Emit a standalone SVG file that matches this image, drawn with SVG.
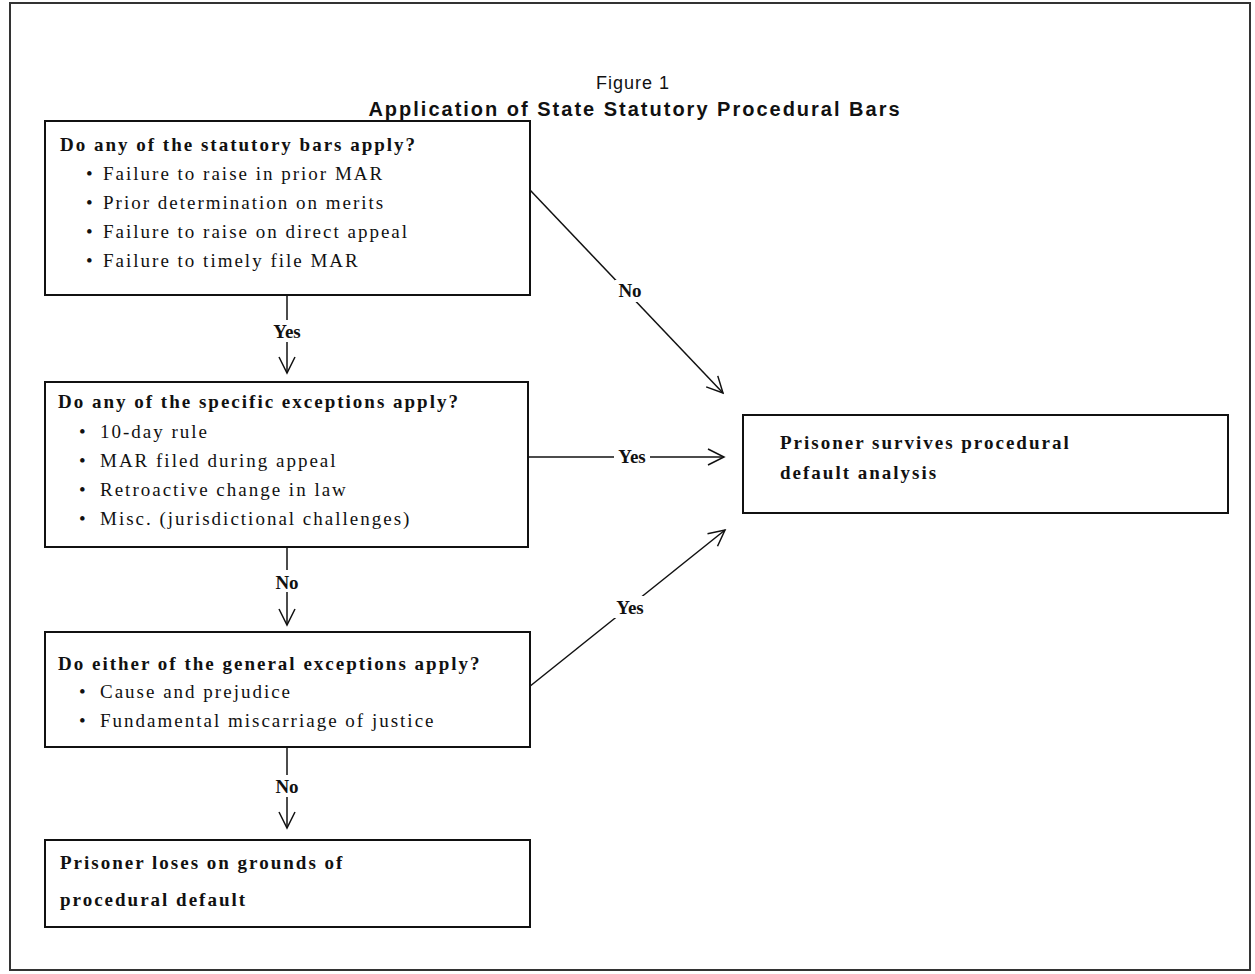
<svg xmlns="http://www.w3.org/2000/svg" width="1255" height="974" viewBox="0 0 1255 974">
<style>
.box{fill:#fff;stroke:#111;stroke-width:2}
.t{font-family:"Liberation Serif",serif;font-size:19px;fill:#111;letter-spacing:2px}
.q{font-weight:bold}
.lbl{font-family:"Liberation Serif",serif;font-size:19px;font-weight:bold;fill:#111;text-anchor:middle}
.ttl{font-family:"Liberation Sans",sans-serif;fill:#111;text-anchor:middle}
.ln{stroke:#111;stroke-width:1.5;fill:none}
.bg{fill:#fff}
</style>
<defs>
<marker id="ah" viewBox="0 0 20 20" refX="18" refY="10" markerWidth="20" markerHeight="20" markerUnits="userSpaceOnUse" orient="auto">
<path d="M2,2 L18,10 L2,18" fill="none" stroke="#111" stroke-width="1.5"/>
</marker>
</defs>
<rect x="0" y="0" width="1255" height="974" fill="#fff"/>
<rect x="10" y="3" width="1240" height="967" fill="none" stroke="#333" stroke-width="2"/>
<g id="title">
<text class="ttl" x="633" y="89" font-size="18" letter-spacing="1">Figure 1</text>
<text class="ttl" x="635" y="116" font-size="20" font-weight="bold" letter-spacing="2">Application of State Statutory Procedural Bars</text>
</g>
<g id="connectors">
<line class="ln" x1="287" y1="295" x2="287" y2="373" marker-end="url(#ah)"/>
<line class="ln" x1="287" y1="548" x2="287" y2="625" marker-end="url(#ah)"/>
<line class="ln" x1="287" y1="748" x2="287" y2="828" marker-end="url(#ah)"/>
<line class="ln" x1="530" y1="190" x2="723" y2="393" marker-end="url(#ah)"/>
<line class="ln" x1="528" y1="457" x2="724" y2="457" marker-end="url(#ah)"/>
<line class="ln" x1="529" y1="687" x2="725" y2="530" marker-end="url(#ah)"/>
<rect class="bg" x="270" y="320" width="34" height="22"/>
<text class="lbl" x="287" y="338">Yes</text>
<rect class="bg" x="272" y="570" width="30" height="22"/>
<text class="lbl" x="287" y="589">No</text>
<rect class="bg" x="272" y="775" width="30" height="22"/>
<text class="lbl" x="287" y="793">No</text>
<rect class="bg" x="615" y="280" width="30" height="22"/>
<text class="lbl" x="630" y="297">No</text>
<rect class="bg" x="614" y="446" width="36" height="22"/>
<text class="lbl" x="632" y="463">Yes</text>
<rect class="bg" x="612" y="596" width="36" height="22"/>
<text class="lbl" x="630" y="614">Yes</text>
</g>
<g id="node-bars">
<rect class="box" x="45" y="121" width="485" height="174"/>
<text class="t q" x="60" y="151">Do any of the statutory bars apply?</text>
<g class="t">
<text x="86" y="180">•</text><text x="103" y="180">Failure to raise in prior MAR</text>
<text x="86" y="209">•</text><text x="103" y="209">Prior determination on merits</text>
<text x="86" y="238">•</text><text x="103" y="238">Failure to raise on direct appeal</text>
<text x="86" y="267">•</text><text x="103" y="267">Failure to timely file MAR</text>
</g>
</g>
<g id="node-specific">
<rect class="box" x="45" y="382" width="483" height="165"/>
<text class="t q" x="58" y="408">Do any of the specific exceptions apply?</text>
<g class="t">
<text x="79" y="438">•</text><text x="100" y="438">10-day rule</text>
<text x="79" y="467">•</text><text x="100" y="467">MAR filed during appeal</text>
<text x="79" y="496">•</text><text x="100" y="496">Retroactive change in law</text>
<text x="79" y="525">•</text><text x="100" y="525">Misc. (jurisdictional challenges)</text>
</g>
</g>
<g id="node-general">
<rect class="box" x="45" y="632" width="485" height="115"/>
<text class="t q" x="58" y="670">Do either of the general exceptions apply?</text>
<g class="t">
<text x="79" y="698">•</text><text x="100" y="698">Cause and prejudice</text>
<text x="79" y="727">•</text><text x="100" y="727">Fundamental miscarriage of justice</text>
</g>
</g>
<g id="node-loses">
<rect class="box" x="45" y="840" width="485" height="87"/>
<text class="t q" x="60" y="869">Prisoner loses on grounds of</text>
<text class="t q" x="60" y="906">procedural default</text>
</g>
<g id="node-survives">
<rect class="box" x="743" y="415" width="485" height="98"/>
<text class="t q" x="780" y="449">Prisoner survives procedural</text>
<text class="t q" x="780" y="479">default analysis</text>
</g>
</svg>
